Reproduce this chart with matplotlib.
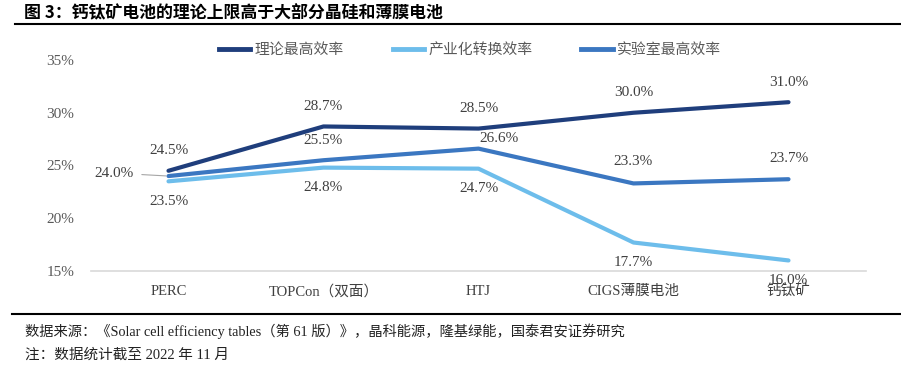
import matplotlib
matplotlib.use("Agg")
import matplotlib.pyplot as plt
from matplotlib.lines import Line2D

# data
categories = ['PERC', 'TOPCon（双面）', 'HTJ', 'CIGS薄膜电池', '钙钛矿']
theory = [24.5, 28.7, 28.5, 30.0, 31.0]
industry = [23.5, 24.8, 24.7, 17.7, 16.0]
lab = [24.0, 25.5, 26.6, 23.3, 23.7]
series_names = ['理论最高效率', '产业化转换效率', '实验室最高效率']
yticks = [15, 20, 25, 30, 35]

c_theory = '#1F3E7C'
c_industry = '#6DBDEB'
c_lab = '#3B77C1'

serif = ['Liberation Serif', 'Noto Sans CJK SC']
sans = ['Noto Sans CJK SC', 'DejaVu Sans']

fig = plt.figure(figsize=(9.01, 3.76), dpi=100)
ax = fig.add_axes([91/901, 1-271/376, 775/901, 211/376])

x = list(range(len(categories)))
ax.plot(x, theory, color=c_theory, lw=3, solid_capstyle='round', zorder=3)
ax.plot(x, industry, color=c_industry, lw=3, solid_capstyle='round', zorder=2)
ax.plot(x, lab, color=c_lab, lw=3, solid_capstyle='round', zorder=3)

ax.set_xlim(-0.5, 4.5)
ax.set_ylim(15, 35)
ax.set_yticks(yticks)
ax.set_yticklabels(['%d%%' % v for v in yticks], family=serif, fontsize=11, color='#595959')
ax.set_xticks(x)
ax.set_xticklabels(categories, family=serif, fontsize=10.5, color='#404040')
ax.tick_params(axis='y', length=0, pad=12)
ax.tick_params(axis='x', length=0, pad=10)
for s in ['top', 'right', 'left']:
    ax.spines[s].set_visible(False)
ax.spines['bottom'].set_color('#D9D9D9')
ax.spines['bottom'].set_linewidth(1.2)

lab_style = dict(textcoords='offset pixels', ha='center', va='center',
                 family=serif, fontsize=11, color='#404040')
for i, v in enumerate(theory):
    ax.annotate('%.1f%%' % v, (i, v), xytext=(0, 20), **lab_style)
for i, v in enumerate(industry):
    ax.annotate('%.1f%%' % v, (i, v), xytext=(0, -20), **lab_style)
lab_off = [None, (0, 20), (21, 10), (0, 22), (0, 21)]
for i, v in enumerate(lab):
    if i == 0:
        ax.annotate('%.1f%%' % v, (i, v), xytext=(-35, 3), textcoords='offset pixels',
                    ha='right', va='center', family=serif, fontsize=11, color='#404040',
                    arrowprops=dict(arrowstyle='-', color='#A6A6A6', lw=0.8,
                                    shrinkA=4, shrinkB=2))
    else:
        ax.annotate('%.1f%%' % v, (i, v), xytext=lab_off[i], **lab_style)

handles = [Line2D([], [], color=c, lw=3.5) for c in (c_theory, c_industry, c_lab)]
ax.legend(handles, series_names, loc='center', bbox_to_anchor=(0.489, 1.047), ncol=3,
          frameon=False, prop={'family': sans, 'size': 10.7}, labelcolor='#595959',
          handlelength=2.1, handletextpad=0.3, columnspacing=3.3)

# title and footer
fig.text(24/901, 1-13/376, '图 3：钙钛矿电池的理论上限高于大部分晶硅和薄膜电池',
         family=sans, fontsize=12.2, weight='bold', va='center', ha='left', color='#000000')
fig.add_artist(Line2D([15/901, 1.0], [1-24/376, 1-24/376], color='black', lw=1.5))
fig.add_artist(Line2D([12/901, 1.0], [1-314/376, 1-314/376], color='black', lw=1.5))
fig.text(25/901, 1-331/376,
         '数据来源：《Solar cell efficiency tables（第 61 版）》，晶科能源，隆基绿能，国泰君安证券研究',
         family=serif, fontsize=10.3, va='center', ha='left', color='#222222')
fig.text(25/901, 1-355/376, '注：数据统计截至 2022 年 11 月',
         family=serif, fontsize=10.5, va='center', ha='left', color='#222222')

fig.savefig('out.png', dpi=100)
